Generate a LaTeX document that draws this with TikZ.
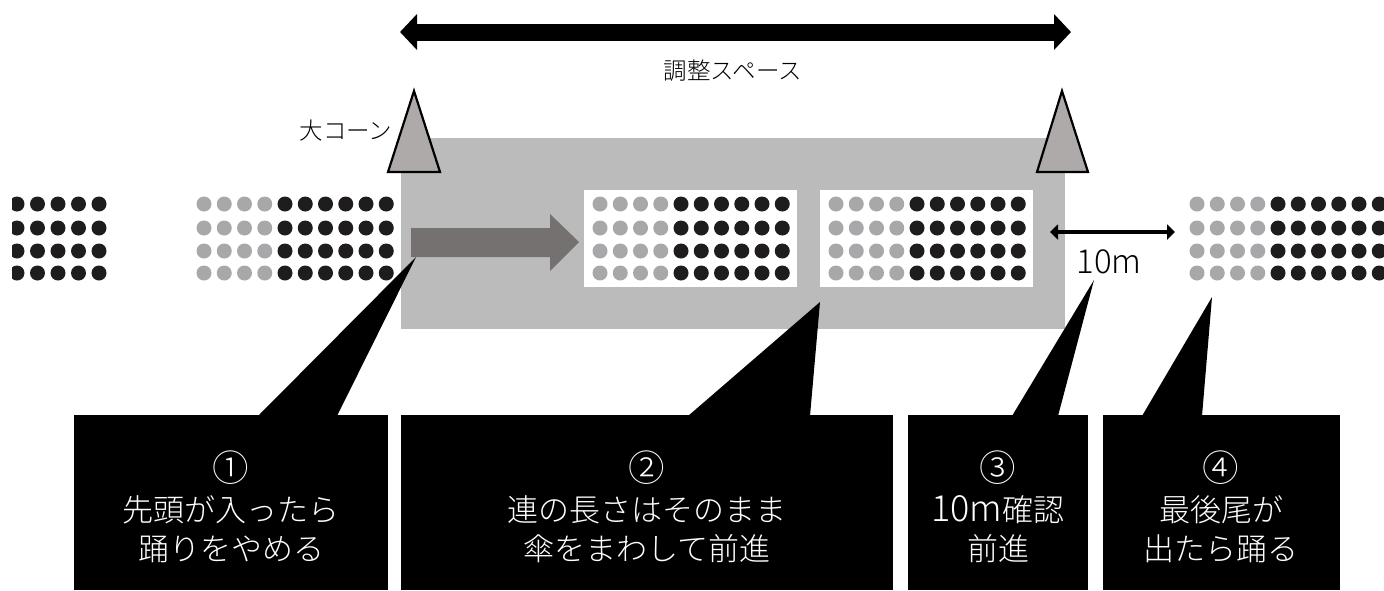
\documentclass[tikz,border=0pt]{standalone}
\usepackage{fontspec}
\setmainfont{Noto Sans CJK JP Light}
\usetikzlibrary{arrows.meta}
\definecolor{zone}{HTML}{BBBBBB}
\definecolor{darkdot}{HTML}{1E1C1C}
\definecolor{lightdot}{HTML}{A8A8AA}
\definecolor{conefill}{HTML}{AEAAAA}
\definecolor{flow}{HTML}{747170}
\tikzset{
  callout/.style={fill=black,draw=none},
  calltext/.style={text=white,align=center,inner sep=0pt,font=\fontsize{31}{39.5}\selectfont},
  small/.style={text=black,inner sep=0pt,font=\fontsize{23.5}{28}\selectfont},
  cone/.style={fill=conefill,draw=black,line width=2.2pt,line join=miter},
  darkd/.style={fill=darkdot,draw=none},
  lightd/.style={fill=lightdot,draw=none},
  whitebox/.style={fill=white,draw=none}
}
\newcommand{\dotgroup}[1]{%
  \foreach \yy in {204,228,251,273}{%
    \foreach \i in {0,1,2,3}{\fill[lightd] ({#1+\i*20.25},\yy) circle (7.5);}%
    \foreach \i in {4,...,9}{\fill[darkd] ({#1+\i*20.25},\yy) circle (7.5);}%
  }}
\newcommand{\wideten}{{\fontsize{36}{39.5}\selectfont 10m}}
\newcommand{\circled}[1]{{\fontsize{36.5}{39.5}\selectfont #1}}
\begin{document}
\begin{tikzpicture}[x=1pt,y=-1pt]
\useasboundingbox (0,0) rectangle (1384,590);
\fill[white] (0,0) rectangle (1384,590);
% zone
\fill[zone] (401,138) rectangle (1065,329);
\fill[whitebox] (584,190) rectangle (797,287);
\fill[whitebox] (820,190) rectangle (1033,287);
% dots
\begin{scope}
\clip (12,190) rectangle (115,290);
\foreach \yy in {204,228,251,273}{\foreach \i in {0,...,4}{\fill[darkd] ({17+\i*20.5},\yy) circle (7.5);}}
\end{scope}
\dotgroup{204}
\dotgroup{600}
\dotgroup{836}
\begin{scope}
\clip (1180,190) rectangle (1384,290);
\dotgroup{1197}
\end{scope}
% flow arrow
\fill[flow] (411,228) -- (550,228) -- (550,214) -- (579,242) -- (550,271) -- (550,257) -- (411,257) -- cycle;
% cones
\node[small] (conelabel) at (346,131) {大コーン};
\draw[cone] (414,91) -- (440,172) -- (388,172) -- cycle;
\draw[cone] (1062,91) -- (1088,172) -- (1037,172) -- cycle;
% dimension arrows
\coordinate (topl) at (400,32);
\coordinate (topr) at (1071,32);
\draw[{Triangle[length=17pt,width=35pt]}-{Triangle[length=17pt,width=35pt]},line width=17pt] (topl) -- (topr);
\node[small] (spacelabel) at (733,71) {調整スペース};
\coordinate (tenl) at (1050,232);
\coordinate (tenr) at (1175,232);
\draw[line width=4.5pt,{Triangle[length=8pt,width=15pt]}-{Triangle[length=8pt,width=15pt]}] (tenl) -- (tenr);
\node[inner sep=0pt,font=\fontsize{33}{36}\selectfont] (tenlabel) at (1109,262) {10m};
% callouts
\fill[callout] (74,415) rectangle (388,590);
\fill[callout] (258,416) -- (416,257) -- (337,416) -- cycle;
\fill[callout] (401,415) rectangle (893,590);
\fill[callout] (688,416) -- (820,302) -- (810,416) -- cycle;
\fill[callout] (908,415) rectangle (1088,590);
\fill[callout] (1012,416) -- (1094,280) -- (1058,416) -- cycle;
\fill[callout] (1103,415) rectangle (1340,590);
\fill[callout] (1142,416) -- (1212,297) -- (1202,416) -- cycle;
\node[calltext] (t1) at (231,507) {\circled{①}\\先頭が入ったら\\踊りをやめる};
\node[calltext] (t2) at (647,507) {\circled{②}\\連の長さはそのまま\\傘をまわして前進};
\node[calltext] (t3) at (998,507) {\circled{③}\\\wideten 確認\\前進};
\node[calltext] (t4) at (1221,507) {\circled{④}\\最後尾が\\出たら踊る};
\end{tikzpicture}
\end{document}
